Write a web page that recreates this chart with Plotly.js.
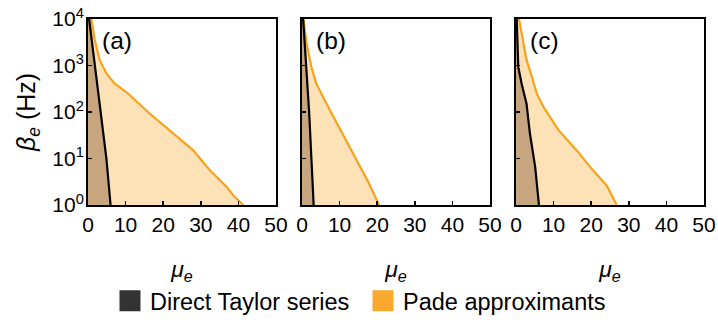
<!DOCTYPE html>
<html>
<head>
<meta charset="utf-8">
<script src="https://cdn.plot.ly/plotly-3.0.1.min.js"></script>
<style>html,body{margin:0;padding:0;background:#fff;}#chart{width:718px;height:323px;}</style>
</head>
<body>
<div id="chart"></div>
<script>
// ---- data ----
const panelLabels = ['(a)', '(b)', '(c)'];
const seriesNames = ['Direct Taylor series', 'Pade approximants'];

// panel (a)
const muTaylorA = [0.3, 1.8, 3.5, 4.9, 6.0];
const betaTaylorA = [10000, 1000, 100, 10, 1];
const muPadeA = [0.9, 1.8, 3.1, 4.9, 7.1, 8.4, 10.2, 16.4, 22.6, 28.0, 32.4, 36.9, 38.6, 41.3];
const betaPadeA = [10000, 3548, 1318, 676, 407, 339, 269, 93, 35, 15, 5.6, 2.45, 1.62, 1];

// panel (b)
const muTaylorB = [0.3, 1.15, 1.9, 2.5, 3.1];
const betaTaylorB = [10000, 1000, 100, 10, 1];
const muPadeB = [0.4, 1.2, 2.5, 3.8, 7.4, 11.8, 14.5, 17.6, 20.5];
const betaPadeB = [10000, 3020, 933, 407, 110, 24.5, 9.1, 3.16, 1];

// panel (c)
const muTaylorC = [0.2, 0.6, 1.5, 2.8, 3.7, 5.1, 6.1];
const betaTaylorC = [10000, 933, 407, 151, 34.7, 6.6, 1];
const muPadeC = [0.8, 1.8, 2.8, 4.2, 5.5, 7.3, 11.3, 16.1, 19.7, 24.1, 26.8];
const betaPadeC = [10000, 3548, 1318, 575, 251, 129, 40.7, 15.1, 6.6, 2.63, 1];

const xTickVals = [0, 10, 20, 30, 40, 50];
const yTickVals = [1, 10, 100, 1000, 10000];
const yTickText = ['10<sup>0</sup>', '10<sup>1</sup>', '10<sup>2</sup>', '10<sup>3</sup>', '10<sup>4</sup>'];

// ---- styling ----
const FONT = 'Arial, "Liberation Sans", sans-serif';
const padeLine = '#f7a21b';
const padeFill = '#fde2b7';
const taylorFill = '#c7a67f';
const legendDark = '#333333';
const legendOrange = '#f9a82e';

const panels = [
  {mt: muTaylorA, bt: betaTaylorA, mp: muPadeA, bp: betaPadeA},
  {mt: muTaylorB, bt: betaTaylorB, mp: muPadeB, bp: betaPadeB},
  {mt: muTaylorC, bt: betaTaylorC, mp: muPadeC, bp: betaPadeC}
];

const W = 718, H = 323;
const panelLeft = [88, 302, 516];
const panelWidth = 188;
const plotTop = 19, plotBottom = 205;

const traces = [];
const layout = {
  width: W, height: H,
  margin: {l: 0, r: 0, t: 0, b: 0},
  paper_bgcolor: '#fff', plot_bgcolor: '#fff',
  font: {family: FONT, color: '#000', size: 21},
  showlegend: true,
  legend: {
    orientation: 'h', x: 110 / W, xanchor: 'left', y: 0, yanchor: 'bottom',
    font: {family: FONT, size: 23.5, color: '#000'},
    bgcolor: 'rgba(0,0,0,0)', borderwidth: 0, itemclick: false,
    entrywidth: 208, entrywidthmode: 'pixels'
  },
  annotations: []
};

panels.forEach((p, i) => {
  const xa = i === 0 ? 'x' : 'x' + (i + 1);
  const ya = i === 0 ? 'y' : 'y' + (i + 1);
  traces.push({
    x: p.mp, y: p.bp, xaxis: xa, yaxis: ya, type: 'scatter', mode: 'lines',
    fill: 'tozerox', fillcolor: padeFill,
    line: {color: padeLine, width: 2.2}, showlegend: false, hoverinfo: 'skip'
  });
  traces.push({
    x: p.mt, y: p.bt, xaxis: xa, yaxis: ya, type: 'scatter', mode: 'lines',
    fill: 'tozerox', fillcolor: taylorFill,
    line: {color: '#000', width: 2.2}, showlegend: false, hoverinfo: 'skip'
  });
  const key = i === 0 ? '' : String(i + 1);
  layout['xaxis' + key] = {
    domain: [panelLeft[i] / W, (panelLeft[i] + panelWidth) / W],
    anchor: ya, range: [0, 50], tickvals: xTickVals, ticks: 'inside', ticklen: 4,
    tickwidth: 1.5, tickcolor: '#000', showline: true, linecolor: '#000', linewidth: 2,
    mirror: true, showgrid: false, zeroline: false,
    tickfont: {family: FONT, size: 21, color: '#000'},
    title: {text: '<i>μ</i><sub><i>e</i></sub>', font: {family: FONT, size: 23}, standoff: 26}
  };
  layout['yaxis' + key] = {
    domain: [1 - plotBottom / H, 1 - plotTop / H],
    anchor: xa, type: 'log', range: [0, 4], tickvals: yTickVals,
    ticktext: yTickText, showticklabels: i === 0, ticklabelstandoff: -2,
    ticks: 'inside', ticklen: 4, tickwidth: 1.5, tickcolor: '#000',
    showline: true, linecolor: '#000', linewidth: 2, mirror: true,
    showgrid: false, zeroline: false,
    tickfont: {family: FONT, size: 21, color: '#000'},
    title: i === 0 ? {text: '<i>β</i><sub><i>e</i></sub> (Hz)', font: {family: FONT, size: 25}, standoff: 10} : {text: ''}
  };
  layout.annotations.push({
    text: panelLabels[i], xref: (xa) + ' domain', yref: (ya) + ' domain',
    x: 0.154, y: 0.887, xanchor: 'center', yanchor: 'middle', showarrow: false,
    font: {family: FONT, size: 24.5, color: '#000'}
  });
});

// legend entries
traces.push({
  x: [null], y: [null], type: 'scatter', mode: 'markers', name: seriesNames[0],
  marker: {symbol: 'square', size: 16, color: legendDark, line: {color: legendDark, width: 5}},
  showlegend: true, hoverinfo: 'skip'
});
traces.push({
  x: [null], y: [null], type: 'scatter', mode: 'markers', name: seriesNames[1],
  marker: {symbol: 'square', size: 16, color: legendOrange, line: {color: legendOrange, width: 5}},
  showlegend: true, hoverinfo: 'skip'
});

Plotly.newPlot('chart', traces, layout, {staticPlot: true, displayModeBar: false});
</script>
</body>
</html>
